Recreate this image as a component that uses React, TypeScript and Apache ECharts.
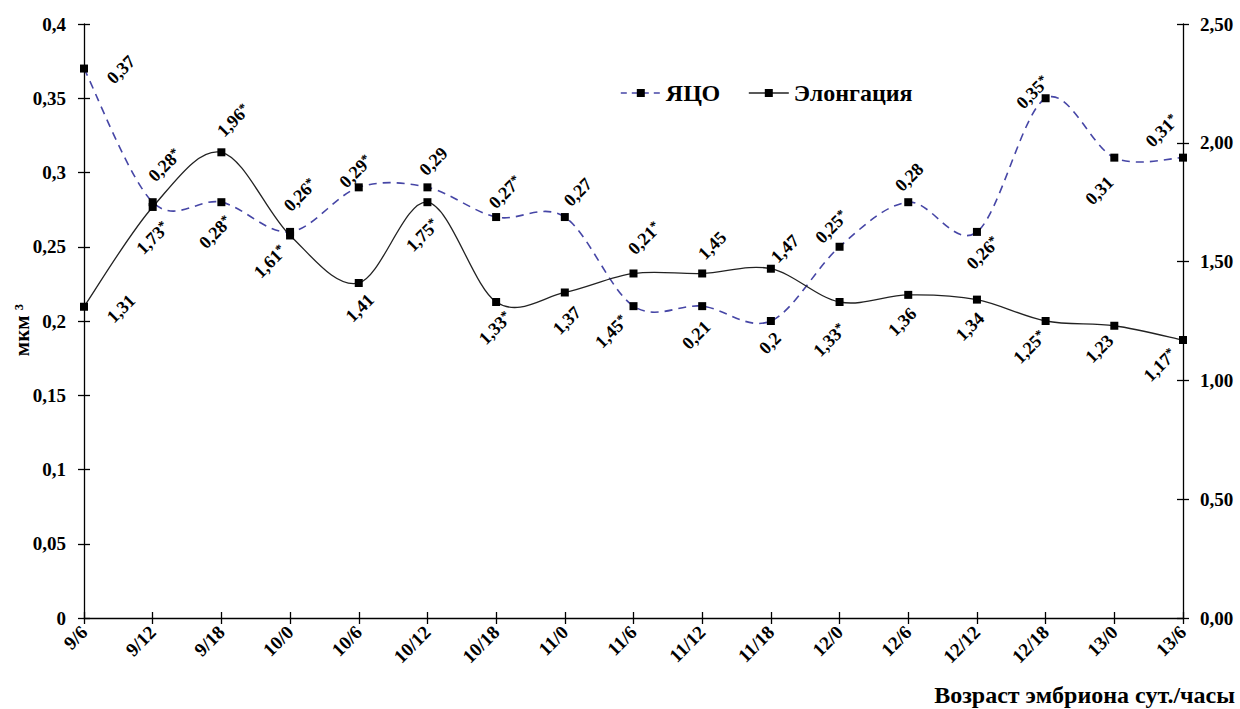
import React, { useEffect, useRef } from "react";
import * as echarts from "echarts";

const categories = ["9/6", "9/12", "9/18", "10/0", "10/6", "10/12", "10/18", "11/0", "11/6", "11/12", "11/18", "12/0", "12/6", "12/12", "12/18", "13/0", "13/6"];

const yacoValues = [0.37, 0.28, 0.28, 0.26, 0.29, 0.29, 0.27, 0.27, 0.21, 0.21, 0.2, 0.25, 0.28, 0.26, 0.35, 0.31, 0.31];
const yacoLabels = ["0,37", "0,28*", "0,28*", "0,26*", "0,29*", "0,29", "0,27*", "0,27", "0,21*", "0,21", "0,2", "0,25*", "0,28", "0,26*", "0,35*", "0,31", "0,31*"];

const elongValues = [1.31, 1.73, 1.96, 1.61, 1.41, 1.75, 1.33, 1.37, 1.45, 1.45, 1.47, 1.33, 1.36, 1.34, 1.25, 1.23, 1.17];
const elongLabels = ["1,31", "1,73*", "1,96*", "1,61*", "1,41", "1,75*", "1,33*", "1,37", "1,45*", "1,45", "1,47", "1,33*", "1,36", "1,34", "1,25*", "1,23", "1,17*"];

// label centre offsets from the marker (px)
const yacoLabelOffsets = [[37, 1], [12, -37], [-6, 30], [10, -37], [-3, -16], [6, -26], [9, -25], [13, -25], [11, -68], [-6, 29], [-1, 22], [-8, -20], [1, -25], [6, 21], [-13, -6], [-15, 33], [-21, -27]];
const elongLabelOffsets = [[37, 2], [0, 31], [12, -32], [-20, 26], [1, 25], [-5, 33], [-1, 26], [2, 28], [-22, 58], [10, -28], [14, -20], [-10, 38], [-6, 27], [-7, 27], [-16, 26], [-15, 23], [-23, 25]];

const FONT = "Liberation Serif";
const SYM = 8;
const BLUE = "#4646a6";
const DARK = "#222";

function richText(t: string) {
  if (t.endsWith("*")) return "{a|" + t.slice(0, -1) + "}{s|*}";
  return "{a|" + t + "}";
}

const labelRich = {
  a: { fontFamily: FONT, fontWeight: "bold", fontSize: 18, color: "#000" },
  s: { fontFamily: FONT, fontWeight: "bold", fontSize: 13, color: "#000", verticalAlign: "top" },
};

function buildData(values: number[], labels: string[], offs: number[][]) {
  return values.map((v, i) => ({
    value: v,
    label: {
      show: true,
      position: [offs[i][0] + SYM / 2, offs[i][1] + SYM / 2],
      align: "center",
      verticalAlign: "middle",
      rotate: 45,
      formatter: richText(labels[i]),
      rich: labelRich,
    },
  }));
}

// Excel-like smoothed curve (Catmull-Rom to cubic Bezier) through the library's coordinates
function curveRenderer(values: number[], color: string, width: number, dash: number[] | null) {
  return (params: any, api: any) => {
    if (params.dataIndex !== 0) return null;
    const pts = values.map((v, i) => api.coord([i, v]));
    let d = "M" + pts[0][0] + "," + pts[0][1];
    for (let i = 0; i < pts.length - 1; i++) {
      const p0 = pts[Math.max(0, i - 1)];
      const p1 = pts[i];
      const p2 = pts[i + 1];
      const p3 = pts[Math.min(pts.length - 1, i + 2)];
      const c1x = p1[0] + (p2[0] - p0[0]) / 6;
      const c1y = p1[1] + (p2[1] - p0[1]) / 6;
      const c2x = p2[0] - (p3[0] - p1[0]) / 6;
      const c2y = p2[1] - (p3[1] - p1[1]) / 6;
      d += " C" + c1x + "," + c1y + " " + c2x + "," + c2y + " " + p2[0] + "," + p2[1];
    }
    return {
      type: "path",
      shape: { pathData: d },
      style: { fill: "none", stroke: color, lineWidth: width, lineDash: dash || undefined },
      silent: true,
    };
  };
}

export default function App() {
  const ref = useRef<HTMLDivElement>(null);
  useEffect(() => {
    if (!ref.current) return;
    const chart = echarts.init(ref.current, null, { renderer: "svg" });
    const axisLabelStyle = { fontFamily: FONT, fontWeight: "bold", fontSize: 19, color: "#000" };
    chart.setOption({
      animation: false,
      backgroundColor: "#fff",
      grid: { left: 84, right: 57, top: 24, bottom: 91, containLabel: false },
      legend: {
        left: 615,
        top: 76,
        itemWidth: 40,
        itemHeight: 10,
        itemGap: 28,
        textStyle: { fontFamily: FONT, fontWeight: "bold", fontSize: 24, color: "#000" },
        data: [
          { name: "ЯЦО", lineStyle: { opacity: 1, color: BLUE, width: 1.6, type: [6, 5] } },
          { name: "Элонгация", lineStyle: { opacity: 1, color: DARK, width: 1.3 } },
        ],
      },
      xAxis: [
        {
          type: "category",
          data: categories,
          boundaryGap: false,
          position: "bottom",
          axisLine: { lineStyle: { color: "#000", width: 1.3 } },
          axisTick: { show: true, length: 6, lineStyle: { color: "#000", width: 1.3 } },
          axisLabel: { ...axisLabelStyle, rotate: 45, margin: 11, interval: 0 },
          splitLine: { show: false },
        },
        {
          type: "category",
          data: categories,
          boundaryGap: false,
          position: "bottom",
          axisLine: { show: false },
          axisTick: { show: true, inside: true, length: 6, lineStyle: { color: "#000", width: 1.3 } },
          axisLabel: { show: false },
          splitLine: { show: false },
        },
      ],
      yAxis: [
        {
          type: "value",
          min: 0,
          max: 0.4,
          interval: 0.05,
          position: "left",
          axisLine: { show: true, lineStyle: { color: "#000", width: 1.3 } },
          axisTick: { show: true, length: 6, lineStyle: { color: "#000", width: 1.3 } },
          axisLabel: { ...axisLabelStyle, margin: 18, formatter: (v: number) => String(+v.toFixed(2)).replace(".", ",") },
          splitLine: { show: false },
        },
        {
          type: "value",
          min: 0,
          max: 2.5,
          interval: 0.5,
          position: "right",
          axisLine: { show: true, lineStyle: { color: "#000", width: 1.3 } },
          axisTick: { show: true, length: 6, lineStyle: { color: "#000", width: 1.3 } },
          axisLabel: { ...axisLabelStyle, margin: 17, formatter: (v: number) => v.toFixed(2).replace(".", ",") },
          splitLine: { show: false },
        },
        {
          type: "value",
          min: 0,
          max: 0.4,
          interval: 0.05,
          position: "left",
          axisLine: { show: false },
          axisTick: { show: true, inside: true, length: 6, lineStyle: { color: "#000", width: 1.3 } },
          axisLabel: { show: false },
          splitLine: { show: false },
        },
        {
          type: "value",
          min: 0,
          max: 2.5,
          interval: 0.5,
          position: "right",
          axisLine: { show: false },
          axisTick: { show: true, inside: true, length: 6, lineStyle: { color: "#000", width: 1.3 } },
          axisLabel: { show: false },
          splitLine: { show: false },
        },
      ],
      series: [
        {
          name: "curveYaco",
          type: "custom",
          xAxisIndex: 0,
          yAxisIndex: 0,
          renderItem: curveRenderer(yacoValues, BLUE, 1.6, [8, 6]),
          data: yacoValues.map((v, i) => [i, v]),
          z: 2,
          silent: true,
        },
        {
          name: "curveElong",
          type: "custom",
          xAxisIndex: 0,
          yAxisIndex: 1,
          renderItem: curveRenderer(elongValues, DARK, 1.3, null),
          data: elongValues.map((v, i) => [i, v]),
          z: 2,
          silent: true,
        },
        {
          name: "ЯЦО",
          type: "line",
          xAxisIndex: 0,
          yAxisIndex: 0,
          symbol: "rect",
          symbolSize: SYM,
          itemStyle: { color: "#000", borderWidth: 0 },
          lineStyle: { color: BLUE, width: 1.6, type: [8, 6], opacity: 0 },
          data: buildData(yacoValues, yacoLabels, yacoLabelOffsets),
          z: 3,
        },
        {
          name: "Элонгация",
          type: "line",
          xAxisIndex: 0,
          yAxisIndex: 1,
          symbol: "rect",
          symbolSize: SYM,
          itemStyle: { color: "#000", borderWidth: 0 },
          lineStyle: { color: DARK, width: 1.3, opacity: 0 },
          data: buildData(elongValues, elongLabels, elongLabelOffsets),
          z: 3,
        },
      ],
      graphic: [
        {
          type: "text",
          x: 22,
          y: 330,
          rotation: Math.PI / 2,
          style: {
            text: "мкм ³",
            fontFamily: FONT,
            fontWeight: "bold",
            fontSize: 21,
            fill: "#000",
            align: "center",
            verticalAlign: "middle",
          },
        },
        {
          type: "text",
          x: 1235,
          y: 695,
          style: {
            text: "Возраст эмбриона сут./часы",
            fontFamily: FONT,
            fontWeight: "bold",
            fontSize: 24,
            fill: "#000",
            align: "right",
            verticalAlign: "middle",
          },
        },
      ],
    });
    return () => chart.dispose();
  }, []);
  return <div ref={ref} style={{ position: "fixed", left: 0, top: 0, width: 1240, height: 709 }} />;
}
